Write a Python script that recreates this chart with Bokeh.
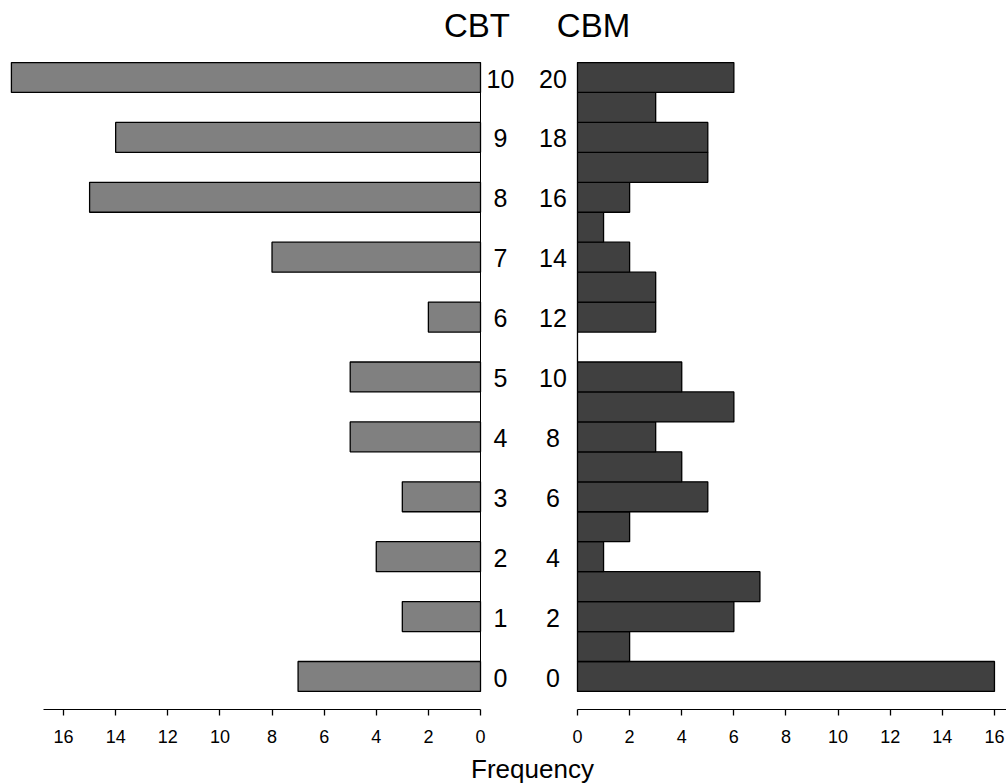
from bokeh.plotting import figure
from bokeh.models import Range1d, LinearAxis, FixedTicker
from bokeh.embed import file_html
from bokeh.resources import INLINE
from bokeh.core.properties import value

# ---- data ----
cbt_scores = list(range(11))
cbt_freq = [7, 3, 4, 3, 5, 5, 2, 8, 15, 14, 18]
cbm_scores = list(range(21))
cbm_freq = [16, 2, 6, 7, 1, 2, 5, 4, 3, 6, 4, 0, 3, 3, 2, 1, 2, 5, 5, 3, 6]
freq_ticks = [0, 2, 4, 6, 8, 10, 12, 14, 16]
cbt_label_scores = cbt_scores
cbt_labels = [str(s) for s in cbt_label_scores]
cbm_label_scores = cbm_scores[::2]
cbm_labels = [str(s) for s in cbm_label_scores]
panel_titles = ["CBT", "CBM"]
x_title = "Frequency"

FONT = "Liberation Sans"

W, H = 1006, 783
p = figure(width=W, height=H,
           x_range=Range1d(-22.141, 16.462),
           y_range=Range1d(-3.573, 22.571),
           x_axis_type=None, y_axis_type=None,
           output_backend="svg", toolbar_location=None,
           min_border=0, outline_line_color=None)
p.extra_x_ranges = {"cbt": Range1d(18.419, -20.184)}
p.extra_y_ranges = {"cbt_y": Range1d(-3.573 / 2, 22.571 / 2)}
p.background_fill_color = "white"
p.border_fill_color = "white"

# bars
p.hbar(y=cbt_scores, left=0, right=cbt_freq, height=0.5,
       x_range_name="cbt", y_range_name="cbt_y",
       fill_color="#808080", line_color="black", line_width=1.3)
p.hbar(y=cbm_scores, left=0, right=cbm_freq, height=1.0,
       fill_color="#404040", line_color="black", line_width=1.3)

# baselines of each panel
p.segment(x0=[0], x1=[0], y0=[cbt_scores[0] - 0.25], y1=[cbt_scores[-1] + 0.25],
          x_range_name="cbt", y_range_name="cbt_y", line_color="black", line_width=1)
p.segment(x0=[0], x1=[0], y0=[cbm_scores[0] - 0.5], y1=[cbm_scores[-1] + 0.5],
          line_color="black", line_width=1)

# score labels in the middle
p.text(x=[-0.767] * len(cbt_labels), y=[s - 0.017 for s in cbt_label_scores], text=cbt_labels,
       x_range_name="cbt", y_range_name="cbt_y",
       text_align="center", text_baseline="middle",
       text_font=value(FONT), text_font_size="25px", text_color="black")
p.text(x=[-0.94] * len(cbm_labels), y=[s - 0.034 for s in cbm_label_scores], text=cbm_labels,
       text_align="center", text_baseline="middle",
       text_font=value(FONT), text_font_size="25px", text_color="black")

# panel titles
p.text(x=[0.134], y=[21.736], text=[panel_titles[0]], x_range_name="cbt",
       text_align="center", text_baseline="middle",
       text_font=value(FONT), text_font_size="33px", text_color="black")
p.text(x=[0.614], y=[21.736], text=[panel_titles[1]],
       text_align="center", text_baseline="middle",
       text_font=value(FONT), text_font_size="33px", text_color="black")

# x title
p.text(x=[-1.727], y=[-3.105], text=[x_title],
       text_align="center", text_baseline="middle",
       text_font=value(FONT), text_font_size="26px", text_color="black")


def style(ax):
    ax.axis_line_color = "black"
    ax.axis_line_width = 1
    ax.major_tick_line_color = "black"
    ax.major_tick_line_width = 1.3
    ax.major_tick_in = 0
    ax.major_tick_out = 6
    ax.minor_tick_line_color = None
    ax.major_label_text_font = FONT
    ax.major_label_text_font_size = "18px"
    ax.major_label_text_color = "black"
    ax.major_label_standoff = 15


ax_l = LinearAxis(x_range_name="cbt", ticker=FixedTicker(ticks=freq_ticks),
                  bounds=(0, 16.77), fixed_location=-1.102)
ax_r = LinearAxis(ticker=FixedTicker(ticks=freq_ticks),
                  bounds=(0, 16.5), fixed_location=-1.102)
style(ax_l)
style(ax_r)
p.add_layout(ax_l, "below")
p.add_layout(ax_r, "below")

open("out.html", "w").write(file_html(p, INLINE))
